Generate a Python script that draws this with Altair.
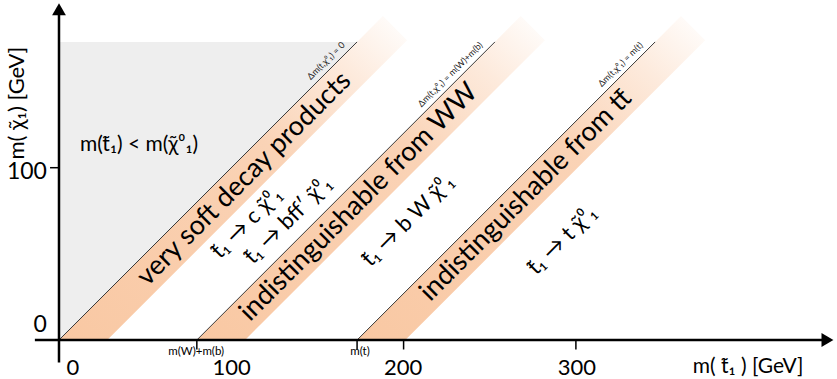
import altair as alt
import pandas as pd

# ---------------- values (GeV) ----------------
X_DOMAIN = [-34.24, 451.54]
Y_DOMAIN = [-22.63, 197.33]

boundary_offsets = [0, 80, 173]          # Δm = 0, m(W)+m(b), m(t)
boundary_labels = ["Δm(t,χ⁰₁) = 0", "Δm(t,χ⁰₁) = m(W)+m(b)", "Δm(t,χ⁰₁) = m(t)"]
band_width = 28
line_top = 173
band_top = 188
grey_top = 173

band_texts = ["very soft decay products", "indistinguishable from WW", "indistinguishable from tt\u0304"]
band_text_x = [107.5, 174, 271]
band_text_y = [93.5, 80, 84]

decay_texts = ["t\u0303\u2081 \u2192 c \u03c7\u0303\u2070\u2081",
               "t\u0303\u2081 \u2192 bff\u2032 \u03c7\u0303\u2070\u2081",
               "t\u0303\u2081 \u2192 b W \u03c7\u0303\u2070\u2081",
               "t\u0303\u2081 \u2192 t \u03c7\u0303\u2070\u2081"]
decay_x = [109, 133, 202.5, 292]
decay_y = [68, 69.6, 69.5, 58]

xtick_vals = [80, 173, 200, 300]
xtick_labels = ["0", "100", "200", "300"]
xtick_label_x = [8, 100.2, 199.7, 300.6]
special_labels = ["m(W)+m(b)", "m(t)"]
special_x = [79.6, 174.7]
ytick_vals = [100]

FONT = "Lato"

def X(f="x"):
    return alt.X(f"{f}:Q", scale=alt.Scale(domain=X_DOMAIN, nice=False, zero=False), axis=None)

def Y(f="y"):
    return alt.Y(f"{f}:Q", scale=alt.Scale(domain=Y_DOMAIN, nice=False, zero=False), axis=None)

layers = []

# grey forbidden region
grey = pd.DataFrame({"y": [0, grey_top], "x": [0, 0], "x2": [0, grey_top]})
layers.append(alt.Chart(grey).mark_area(orient="horizontal", color="#eeeeee").encode(
    y=Y("y"), x=X("x"), x2=alt.X2("x2")))

grad = alt.Gradient(gradient="linear",
                    stops=[alt.GradientStop(offset=0, color="#f9c8a3"),
                           alt.GradientStop(offset=0.6, color="#fad3b6"),
                           alt.GradientStop(offset=0.83, color="#fdeadc"),
                           alt.GradientStop(offset=1, color="#ffffff")],
                    x1=0, y1=1, x2=1, y2=0)

for a in boundary_offsets:
    ymid = band_top - band_width / 2
    band = pd.DataFrame({
        "y": [0, ymid, band_top],
        "x": [a, a + ymid, a + band_top],
        "x2": [a + band_width, a + band_width + ymid, a + band_top],
    })
    layers.append(alt.Chart(band).mark_area(orient="horizontal", color=grad).encode(
        y=Y("y"), x=X("x"), x2=alt.X2("x2")))

# boundary lines
lines = pd.DataFrame({"x": boundary_offsets, "y": [0] * 3,
                      "x2": [a + line_top for a in boundary_offsets], "y2": [line_top] * 3})
layers.append(alt.Chart(lines).mark_rule(color="#3a3a3a", strokeWidth=1).encode(
    x=X("x"), y=Y("y"), x2=alt.X2("x2"), y2=alt.Y2("y2")))

# boundary labels
bl = pd.DataFrame({"x": [a + 167 for a in boundary_offsets], "y": [170] * 3, "t": boundary_labels})
layers.append(alt.Chart(bl).mark_text(angle=315, align="right", baseline="bottom",
                                      fontSize=9, font=FONT, color="#222").encode(
    x=X("x"), y=Y("y"), text="t:N"))

# band texts
bt = pd.DataFrame({"x": band_text_x, "y": band_text_y, "t": band_texts})
layers.append(alt.Chart(bt).mark_text(angle=315, align="center", baseline="middle",
                                      fontSize=27, font=FONT, color="#000").encode(
    x=X("x"), y=Y("y"), text="t:N"))

# decay texts
dt = pd.DataFrame({"x": decay_x, "y": decay_y, "t": decay_texts})
layers.append(alt.Chart(dt).mark_text(angle=315, align="center", baseline="middle",
                                      fontSize=22, font=FONT, color="#000").encode(
    x=X("x"), y=Y("y"), text="t:N"))

# forbidden region text
ft = pd.DataFrame({"x": [46.4], "y": [113.2], "t": ["m(t\u0303\u2081) < m(\u03c7\u0303\u2070\u2081)"]})
layers.append(alt.Chart(ft).mark_text(align="center", baseline="middle",
                                      fontSize=21, font=FONT, color="#000").encode(
    x=X("x"), y=Y("y"), text="t:N"))

# axes
ax = pd.DataFrame({"x": [-14, 0], "y": [0, -13], "x2": [443, 0], "y2": [0, 190]})
layers.append(alt.Chart(ax).mark_rule(color="#000", strokeWidth=2.5).encode(
    x=X("x"), y=Y("y"), x2=alt.X2("x2"), y2=alt.Y2("y2")))

arr_r = pd.DataFrame({"x": [446], "y": [0]})
layers.append(alt.Chart(arr_r).mark_point(shape="triangle-right", filled=True, size=190,
                                          color="#000", opacity=1).encode(x=X("x"), y=Y("y")))
arr_u = pd.DataFrame({"x": [0], "y": [192]})
layers.append(alt.Chart(arr_u).mark_point(shape="triangle-up", filled=True, size=190,
                                          color="#000", opacity=1).encode(x=X("x"), y=Y("y")))

# ticks
xt = pd.DataFrame({"x": xtick_vals, "y": [-5.5] * len(xtick_vals), "y2": [0] * len(xtick_vals)})
layers.append(alt.Chart(xt).mark_rule(color="#000", strokeWidth=1.5).encode(
    x=X("x"), y=Y("y"), y2=alt.Y2("y2")))
yt = pd.DataFrame({"y": ytick_vals, "x": [-5.2], "x2": [0]})
layers.append(alt.Chart(yt).mark_rule(color="#000", strokeWidth=1.5).encode(
    x=X("x"), x2=alt.X2("x2"), y=Y("y")))

# tick labels
xl = pd.DataFrame({"x": xtick_label_x, "y": [-16.0] * 4, "t": xtick_labels})
layers.append(alt.Chart(xl).mark_text(align="center", baseline="middle", fontSize=22,
                                      font=FONT, color="#000").encode(x=X("x"), y=Y("y"), text="t:N"))
yl = pd.DataFrame({"x": [-7, -7], "y": [97.5, 8.7], "t": ["100", "0"]})
layers.append(alt.Chart(yl).mark_text(align="right", baseline="middle", fontSize=23,
                                      font=FONT, color="#000").encode(x=X("x"), y=Y("y"), text="t:N"))
sl = pd.DataFrame({"x": special_x, "y": [-7.0] * 2, "t": special_labels})
layers.append(alt.Chart(sl).mark_text(align="center", baseline="middle", fontSize=11.5,
                                      font=FONT, color="#000").encode(x=X("x"), y=Y("y"), text="t:N"))

# axis titles
xtitle = pd.DataFrame({"x": [399.9], "y": [-15.7], "t": ["m( t\u0303\u2081 ) [GeV]"]})
layers.append(alt.Chart(xtitle).mark_text(align="center", baseline="middle", fontSize=21,
                                          font=FONT, color="#000").encode(x=X("x"), y=Y("y"), text="t:N"))
ytitle = pd.DataFrame({"x": [-24.4], "y": [137.5], "t": ["m( \u03c7\u0303\u2081) [GeV]"]})
layers.append(alt.Chart(ytitle).mark_text(angle=270, align="center", baseline="middle", fontSize=22,
                                          font=FONT, color="#000").encode(x=X("x"), y=Y("y"), text="t:N"))

chart = alt.layer(*layers).properties(
    width=837, height=379, padding=0,
    autosize=alt.AutoSizeParams(type="none"),
    background="white",
).configure_view(stroke=None)

chart.save("out.html", embed_options={"renderer": "svg", "actions": False})
